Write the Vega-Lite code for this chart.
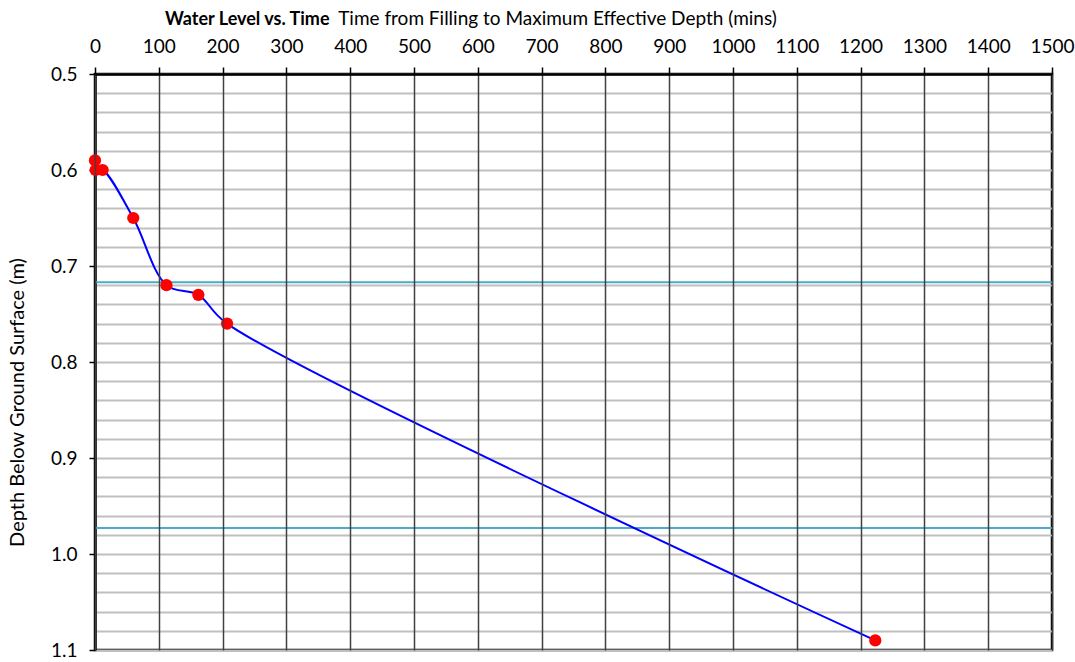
{
  "$schema": "https://vega.github.io/schema/vega-lite/v6.json",
  "width": 957,
  "height": 576,
  "autosize": {"type": "none"},
  "padding": {"left": 95, "top": 74, "right": 23, "bottom": 12},
  "background": "white",
  "config": {
    "font": "Lato",
    "view": {"stroke": "black", "strokeWidth": 2.5},
    "axis": {"labelFont": "Lato", "titleFont": "Lato", "labelColor": "#000", "titleColor": "#000"}
  },
  "title": {
    "text": "Water Level vs. Time",
    "font": "Lato",
    "fontSize": 18,
    "fontWeight": "bold",
    "anchor": "start",
    "frame": "group",
    "dx": 70,
    "dy": 24,
    "color": "#000"
  },
  "datasets": {
    "obs": [
      {"time": 0, "depth": 0.59},
      {"time": 1, "depth": 0.6},
      {"time": 12, "depth": 0.6},
      {"time": 60, "depth": 0.65},
      {"time": 112, "depth": 0.72},
      {"time": 162, "depth": 0.73},
      {"time": 207, "depth": 0.76},
      {"time": 1223, "depth": 1.09}
    ],
    "levels": [
      {"level": 0.717},
      {"level": 0.973}
    ]
  },
  "layer": [
    {
      "data": {"name": "levels"},
      "mark": {"type": "rule", "color": "#4bacc6", "strokeWidth": 2},
      "encoding": {
        "y": {"field": "level", "type": "quantitative", "scale": {"domain": [0.5, 1.1], "reverse": true, "nice": false, "zero": false}}
      }
    },
    {
      "data": {"name": "obs"},
      "mark": {"type": "line", "color": "#0000ff", "strokeWidth": 2, "interpolate": "catmull-rom"},
      "encoding": {
        "x": {
          "field": "time", "type": "quantitative",
          "scale": {"domain": [0, 1500], "nice": false, "zero": false},
          "axis": {
            "orient": "top",
            "values": [0, 100, 200, 300, 400, 500, 600, 700, 800, 900, 1000, 1100, 1200, 1300, 1400, 1500],
            "tickCount": 16,
            "format": "d",
            "title": "Time from Filling to Maximum Effective Depth (mins)",
            "titleFontSize": 19,
            "titleFontWeight": "normal",
            "titleX": 462,
            "titleY": -56,
            "titleAlign": "center",
            "titleBaseline": "middle",
            "labelFontSize": 19,
            "labelBaseline": "alphabetic",
            "labelPadding": 15,
            "labelFlush": false,
            "labelOverlap": false,
            "tickSize": 7,
            "tickColor": "#000",
            "tickWidth": 1.5,
            "domainColor": "#000",
            "domainWidth": 2.5,
            "grid": true,
            "gridColor": "#404040",
            "gridWidth": 1.5,
            "zindex": 1
          }
        },
        "y": {
          "field": "depth", "type": "quantitative",
          "scale": {"domain": [0.5, 1.1], "reverse": true, "nice": false, "zero": false},
          "axis": {
            "values": [0.5, 0.52, 0.54, 0.56, 0.58, 0.6, 0.62, 0.64, 0.66, 0.68, 0.7, 0.72, 0.74, 0.76, 0.78, 0.8, 0.82, 0.84, 0.86, 0.88, 0.9, 0.92, 0.94, 0.96, 0.98, 1.0, 1.02, 1.04, 1.06, 1.08, 1.1],
            "tickCount": 31,
            "labelExpr": "abs(datum.value*10 - round(datum.value*10)) < 0.001 ? format(datum.value, '.1f') : ''",
            "title": "Depth Below Ground Surface (m)",
            "titleFontSize": 20,
            "titleFontWeight": "normal",
            "titleX": -78,
            "titleY": 328,
            "titleAlign": "center",
            "titleBaseline": "middle",
            "titleAngle": -90,
            "labelFontSize": 19,
            "labelPadding": 12,
            "labelBaseline": "middle",
            "labelFlush": false,
            "labelOverlap": false,
            "tickSize": 6,
            "tickColor": "#000",
            "tickWidth": 1.5,
            "tickOpacity": {"condition": {"test": "abs(datum.value*10 - round(datum.value*10)) < 0.001", "value": 1}, "value": 0},
            "domainColor": "#000",
            "domainWidth": 2.5,
            "grid": true,
            "gridColor": "#c0c0c0",
            "gridWidth": 2,
            "zindex": 0
          }
        }
      }
    },
    {
      "data": {"name": "obs"},
      "mark": {"type": "circle", "color": "#ff0000", "opacity": 1, "size": 150},
      "encoding": {
        "x": {"field": "time", "type": "quantitative"},
        "y": {"field": "depth", "type": "quantitative"}
      }
    }
  ]
}
